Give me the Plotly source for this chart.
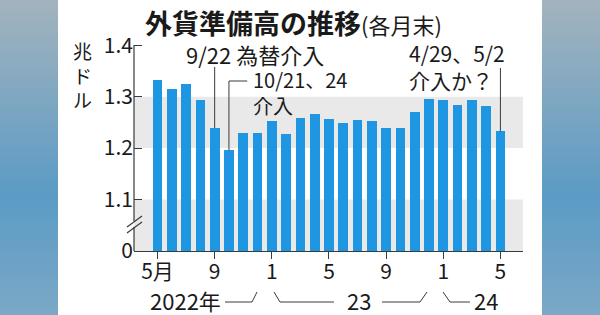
import base64
import plotly.graph_objects as go

# ---------------- data ----------------
months = ["2022/5", "2022/6", "2022/7", "2022/8", "2022/9", "2022/10", "2022/11", "2022/12",
          "2023/1", "2023/2", "2023/3", "2023/4", "2023/5", "2023/6", "2023/7", "2023/8",
          "2023/9", "2023/10", "2023/11", "2023/12",
          "2024/1", "2024/2", "2024/3", "2024/4", "2024/5"]
reserves = [1.332, 1.314, 1.325, 1.294, 1.239, 1.196, 1.229, 1.229,
            1.252, 1.227, 1.258, 1.267, 1.256, 1.248, 1.255, 1.253,
            1.239, 1.239, 1.271, 1.296,
            1.293, 1.284, 1.293, 1.281, 1.233]
tick_months = ["2022/5", "2022/9", "2023/1", "2023/5", "2023/9", "2024/1", "2024/5"]
tick_labels = ["5月", "9", "1", "5", "9", "1", "5"]
y_tick_values = [1.0, 1.1, 1.2, 1.3, 1.4]
y_tick_labels = ["0", "1.1", "1.2", "1.3", "1.4"]
year_labels = ["2022年", "23", "24"]

# ---------------- geometry ----------------
W, H = 600, 315
L, R, T, B = 134, 523, 4, 251
XMIN, XMAX = -1.645, 25.58
YMIN, YMAX = 1.0, 1.48
FONT = "Noto Sans CJK JP"
INK = "#1a1a1a"
LINE = "#3a3a3a"

idx = list(range(len(months)))
def PX(px):
    return (px - L) / (R - L)
def PY(py):
    return (B - py) / (B - T)
def VY(py):
    return YMIN + (B - py) / (B - T) * (YMAX - YMIN)

fig = go.Figure()
fig.add_trace(go.Bar(x=idx, y=reserves, width=0.68,
                     marker=dict(color="#1e96e1", line=dict(width=0)),
                     hoverinfo="skip"))

shapes = []
# white panel
shapes.append(dict(type="rect", xref="paper", yref="paper", x0=PX(58), x1=PX(542),
                   y0=PY(H + 2), y1=PY(-2), fillcolor="white", line=dict(width=0), layer="below"))
# gray bands
for y0, y1 in [(1.0, 1.1), (1.2, 1.3)]:
    shapes.append(dict(type="rect", xref="x domain", yref="y", x0=0, x1=1, y0=y0, y1=y1,
                       fillcolor="#e9e9e9", line=dict(width=0), layer="below"))
# y axis line with break
shapes.append(dict(type="line", xref="paper", yref="paper", x0=0, x1=0, y0=PY(B), y1=PY(227),
                   line=dict(color=LINE, width=1.2)))
shapes.append(dict(type="line", xref="paper", yref="paper", x0=0, x1=0, y0=PY(221), y1=PY(45),
                   line=dict(color=LINE, width=1.2)))
for off in [0, -6]:
    shapes.append(dict(type="line", xref="paper", yref="paper",
                       x0=PX(127), y0=PY(233 + off), x1=PX(142), y1=PY(222 + off),
                       line=dict(color=LINE, width=1.2)))

# leader lines
i_sep = months.index("2022/9")
i_oct = months.index("2022/10")
i_may = months.index("2024/5")
shapes.append(dict(type="line", xref="x", yref="y", x0=i_sep, x1=i_sep,
                   y0=reserves[i_sep], y1=VY(67), line=dict(color=LINE, width=1)))
shapes.append(dict(type="path", xref="x", yref="y",
                   path=f"M {i_oct},{reserves[i_oct]} L {i_oct},{VY(81)} L {i_oct + 1.28},{VY(81)}",
                   line=dict(color=LINE, width=1)))
shapes.append(dict(type="line", xref="x", yref="y", x0=i_may, x1=i_may,
                   y0=reserves[i_may], y1=VY(68), line=dict(color=LINE, width=1)))

# year bracket lines (bottom row)
def pth(pts):
    return "M " + " L ".join(f"{PX(a)},{PY(b)}" for a, b in pts)
for pts in [[(225, 302), (252, 302), (257, 292)],
            [(274, 292), (280, 302), (334, 302)],
            [(382, 302), (420, 302), (427, 292)],
            [(443, 292), (450, 302), (470, 302)]]:
    shapes.append(dict(type="path", xref="paper", yref="paper", path=pth(pts),
                       line=dict(color=LINE, width=1)))

ann = []
def text(s, px, py, size, xanchor="left", align="left", yanchor="middle"):
    ann.append(dict(text=s, xref="paper", yref="paper", x=PX(px), y=PY(py),
                    xanchor=xanchor, yanchor=yanchor, showarrow=False, align=align,
                    font=dict(family=FONT, size=size, color=INK)))

text("<b>外貨準備高の推移</b><span style='font-size:22px'>(各月末)</span>", 143, 22, 27)
text("兆<br>ド<br>ル", 82, 75, 19, xanchor="center", align="center")
text("9/22 為替介入", 184, 54, 22)
text("10/21、24<br>介入", 251, 92, 20)
text("4/29、5/2<br>介入か？", 407, 66, 21)
text(year_labels[0], 223, 300, 22, xanchor="right")
text(year_labels[1], 358.5, 300, 22, xanchor="center")
text(year_labels[2], 472, 300, 22)

# background gradient
svg = ('<svg xmlns="http://www.w3.org/2000/svg" width="600" height="315">'
       '<defs><linearGradient id="g" x1="0" y1="0" x2="0" y2="1">'
       '<stop offset="0" stop-color="#a3b3bd"/><stop offset="0.62" stop-color="#5b9bc5"/>'
       '<stop offset="1" stop-color="#7ba8c6"/></linearGradient></defs>'
       '<rect width="600" height="315" fill="url(#g)"/></svg>')
src = "data:image/svg+xml;base64," + base64.b64encode(svg.encode()).decode()

fig.update_layout(
    width=W, height=H, autosize=False,
    margin=dict(l=L, r=W - R, t=T, b=H - B, pad=0),
    paper_bgcolor="#6a9fc2", plot_bgcolor="rgba(0,0,0,0)",
    showlegend=False, bargap=0,
    shapes=shapes, annotations=ann,
    images=[dict(source=src, xref="paper", yref="paper", x=PX(0), y=PY(0),
                 sizex=W / (R - L), sizey=H / (B - T), xanchor="left", yanchor="top",
                 sizing="stretch", layer="below")],
    xaxis=dict(range=[XMIN, XMAX], tickmode="array",
               tickvals=[months.index(m) for m in tick_months], ticktext=tick_labels,
               ticks="outside", ticklen=7, tickcolor=LINE, tickwidth=1.2,
               ticklabelstandoff=-5,
               showline=True, linecolor=LINE, linewidth=1.2,
               showgrid=False, zeroline=False,
               tickfont=dict(family=FONT, size=21, color=INK), fixedrange=True),
    yaxis=dict(range=[YMIN, YMAX], tickmode="array", tickvals=y_tick_values,
               ticktext=y_tick_labels, ticks="inside", ticklen=8, tickcolor=LINE, tickwidth=1.2,
               showline=False, showgrid=False, zeroline=False,
               tickfont=dict(family=FONT, size=21, color=INK), fixedrange=True),
)

fig.write_html("out.html")
